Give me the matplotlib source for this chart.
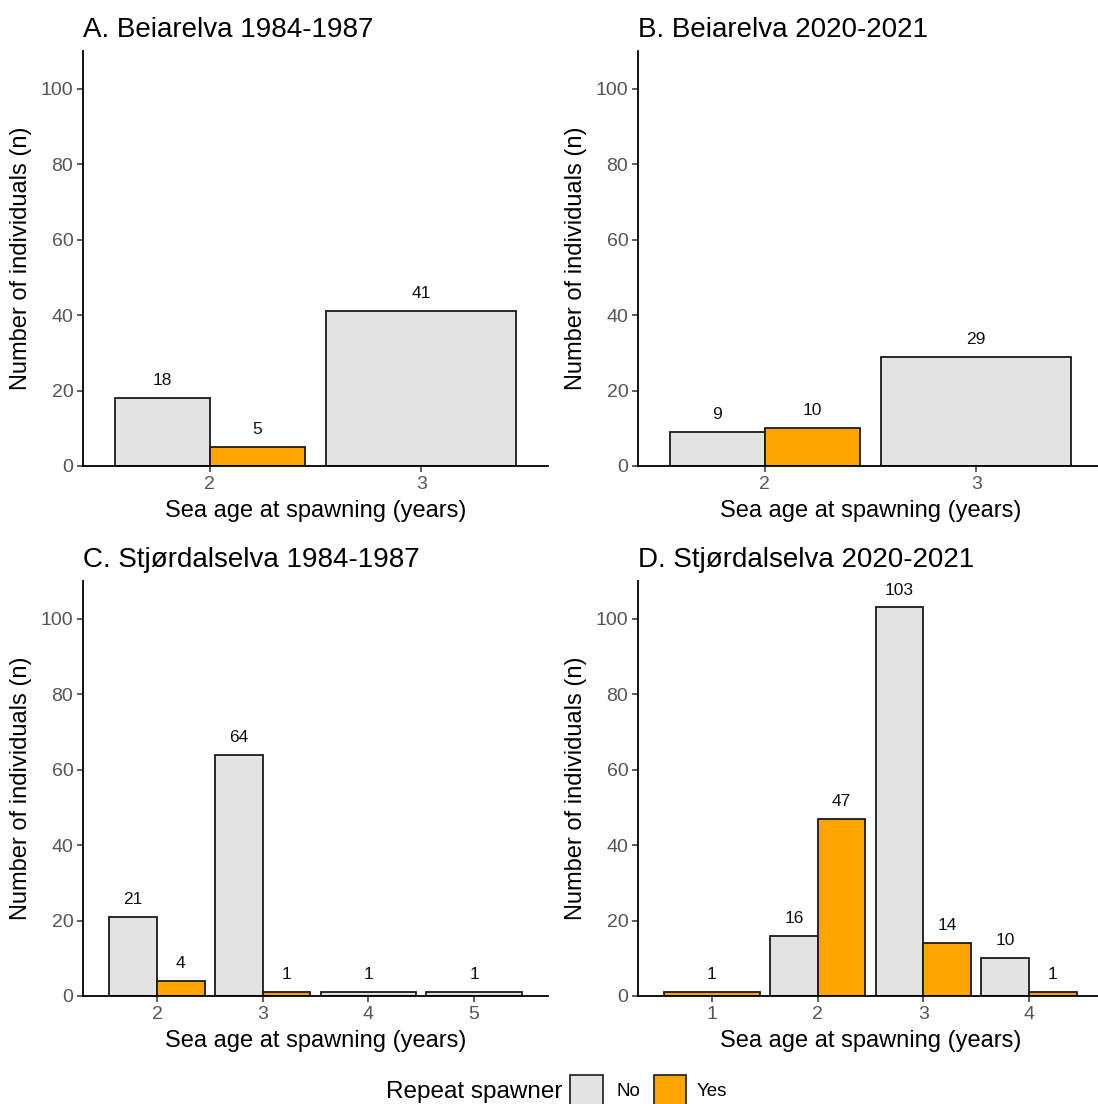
import matplotlib
matplotlib.use("Agg")
import matplotlib.pyplot as plt
from matplotlib.patches import Rectangle

plt.rcParams['font.family'] = ['Liberation Sans', 'DejaVu Sans']

# ---- data ----
titles = ["A. Beiarelva 1984-1987", "B. Beiarelva 2020-2021",
          "C. Stjørdalselva 1984-1987", "D. Stjørdalselva 2020-2021"]
ages_A = [2, 3]
no_A = [18, 41]
yes_A = [5, None]
ages_B = [2, 3]
no_B = [9, 29]
yes_B = [10, None]
ages_C = [2, 3, 4, 5]
no_C = [21, 64, 1, 1]
yes_C = [4, 1, None, None]
ages_D = [1, 2, 3, 4]
no_D = [None, 16, 103, 10]
yes_D = [1, 47, 14, 1]
yticks = [0, 20, 40, 60, 80, 100]
legend_title = "Repeat spawner"
legend_labels = ["No", "Yes"]
xlabel = "Sea age at spawning (years)"
ylabel = "Number of individuals (n)"

c_no = "#E3E3E3"
c_yes = "#FFA500"
edge = "#1A1A1A"

W, H = 1098, 1104
fig = plt.figure(figsize=(W / 100, H / 100), dpi=100)

def ax_at(x0, x1, ytop, ybot):
    return fig.add_axes([x0 / W, 1 - ybot / H, (x1 - x0) / W, (ybot - ytop) / H])

panels = [
    (ax_at(83, 548, 51, 466), ages_A, no_A, yes_A, 0.6),
    (ax_at(638, 1103, 51, 466), ages_B, no_B, yes_B, 0.6),
    (ax_at(83, 548, 581, 996), ages_C, no_C, yes_C, 0.7),
    (ax_at(638, 1103, 581, 996), ages_D, no_D, yes_D, 0.7),
]

for (ax, ages, no, yes, pad), title in zip(panels, titles):
    for a, n, y in zip(ages, no, yes):
        if n is not None and y is not None:
            items = [(a - 0.225, 0.45, n, c_no), (a + 0.225, 0.45, y, c_yes)]
        elif n is not None:
            items = [(a, 0.9, n, c_no)]
        else:
            items = [(a, 0.9, y, c_yes)]
        for xc, w, v, c in items:
            ax.bar(xc, v, width=w, color=c, edgecolor=edge, linewidth=1.3, zorder=2)
            ax.text(xc, v + 4.6, str(v), ha='center', va='center', fontsize=12.5, color='#111111')
    ax.set_xlim(min(ages) - pad, max(ages) + pad)
    ax.set_ylim(0, 110)
    ax.set_xticks(ages)
    ax.set_yticks(yticks)
    for s in ['top', 'right']:
        ax.spines[s].set_visible(False)
    for s in ['left', 'bottom']:
        ax.spines[s].set_linewidth(1.3)
        ax.spines[s].set_color('black')
    ax.tick_params(axis='both', length=4, width=1.1, color='#333333',
                   labelsize=14, labelcolor='#555555', pad=3)
    ax.set_xlabel(xlabel, fontsize=17, labelpad=5)
    ax.set_ylabel(ylabel, fontsize=17, labelpad=6)
    ax.set_title(title, loc='left', fontsize=20, pad=10)

# ---- legend (bottom, horizontal) ----
fig.text(386 / W, 1 - 1092 / H, legend_title, fontsize=17.5, ha='left', va='center')
for (x0, x1, tx), lab, col in zip([(570, 603, 617), (654, 686, 697)], legend_labels, [c_no, c_yes]):
    fig.add_artist(Rectangle((x0 / W, 1 - 1108 / H), (x1 - x0) / W, 33 / H,
                             transform=fig.transFigure, facecolor=col,
                             edgecolor=edge, linewidth=1.2))
    fig.text(tx / W, 1 - 1092 / H, lab, fontsize=13.5, ha='left', va='center')

fig.savefig("out.png", dpi=100)
